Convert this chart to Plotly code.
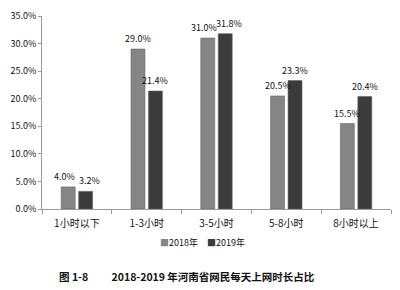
import plotly.graph_objects as go

categories = ["1小时以下", "1-3小时", "3-5小时", "5-8小时", "8小时以上"]
series_names = ["2018年", "2019年"]
values_2018 = [4.0, 29.0, 31.0, 20.5, 15.5]
values_2019 = [3.2, 21.4, 31.8, 23.3, 20.4]
y_ticks = [0, 5, 10, 15, 20, 25, 30, 35]
y_tick_labels = ["0.0%", "5.0%", "10.0%", "15.0%", "20.0%", "25.0%", "30.0%", "35.0%"]
caption = "图 1-8　　 2018-2019 年河南省网民每天上网时长占比"

colors = ["#858585", "#3b3b3b"]
FONT = "Noto Sans CJK SC, sans-serif"

fig = go.Figure()
for name, vals, col in zip(series_names, [values_2018, values_2019], colors):
    fig.add_trace(go.Bar(
        x=categories, y=vals, name=name,
        marker=dict(color=col, line=dict(color="#666666", width=0.6)),
    ))

# value labels above bars (pushed apart when the pair is at similar height)
bar_offset = 8.7  # px from category centre to each bar centre
annotations = []
for i, cat in enumerate(categories):
    close = abs(values_2018[i] - values_2019[i]) < 2.5
    for s, vals in enumerate([values_2018, values_2019]):
        sign = -1 if s == 0 else 1
        shift = sign * (bar_offset + (4 if close else 0))
        annotations.append(dict(
            x=cat, y=vals[i], xref="x", yref="y", xshift=shift, yshift=2,
            xanchor="center", yanchor="bottom", showarrow=False,
            text=f"{vals[i]:.1f}%", font=dict(size=9, color="#111111", family=FONT),
        ))

annotations += [
    dict(xref="paper", yref="paper", x=0.46, y=-0.176, xanchor="center", yanchor="middle",
         showarrow=False, font=dict(size=9, color="#111111"),
         text=f"<span style='color:{colors[0]}'>■</span>{series_names[0]}　"
              f"<span style='color:{colors[1]}'>■</span>{series_names[1]}"),
    dict(xref="paper", yref="paper", x=0.043, y=-0.352, xanchor="left", yanchor="middle",
         showarrow=False, font=dict(size=10.5, color="#111111"),
         text=f"<b>{caption}</b>"),
]

fig.update_layout(
    width=400, height=290,
    margin=dict(l=42, r=9, t=16, b=81),
    paper_bgcolor="white", plot_bgcolor="white",
    barmode="group", bargap=0.5, bargroupgap=0.2,
    showlegend=False,
    font=dict(family=FONT, size=9, color="#111111"),
    xaxis=dict(
        showline=True, linecolor="#999999", linewidth=1,
        ticks="outside", tickson="boundaries", ticklen=4, tickcolor="#999999",
        tickfont=dict(size=10, color="#111111"), ticklabelstandoff=5,
    ),
    yaxis=dict(
        range=[0, 35], tickvals=y_ticks, ticktext=y_tick_labels,
        showline=True, linecolor="#999999", linewidth=1,
        ticks="outside", ticklen=3, tickcolor="#999999",
        showgrid=False, zeroline=False,
        tickfont=dict(size=9, color="#111111"),
    ),
    annotations=annotations,
)

fig.write_html("out.html")
